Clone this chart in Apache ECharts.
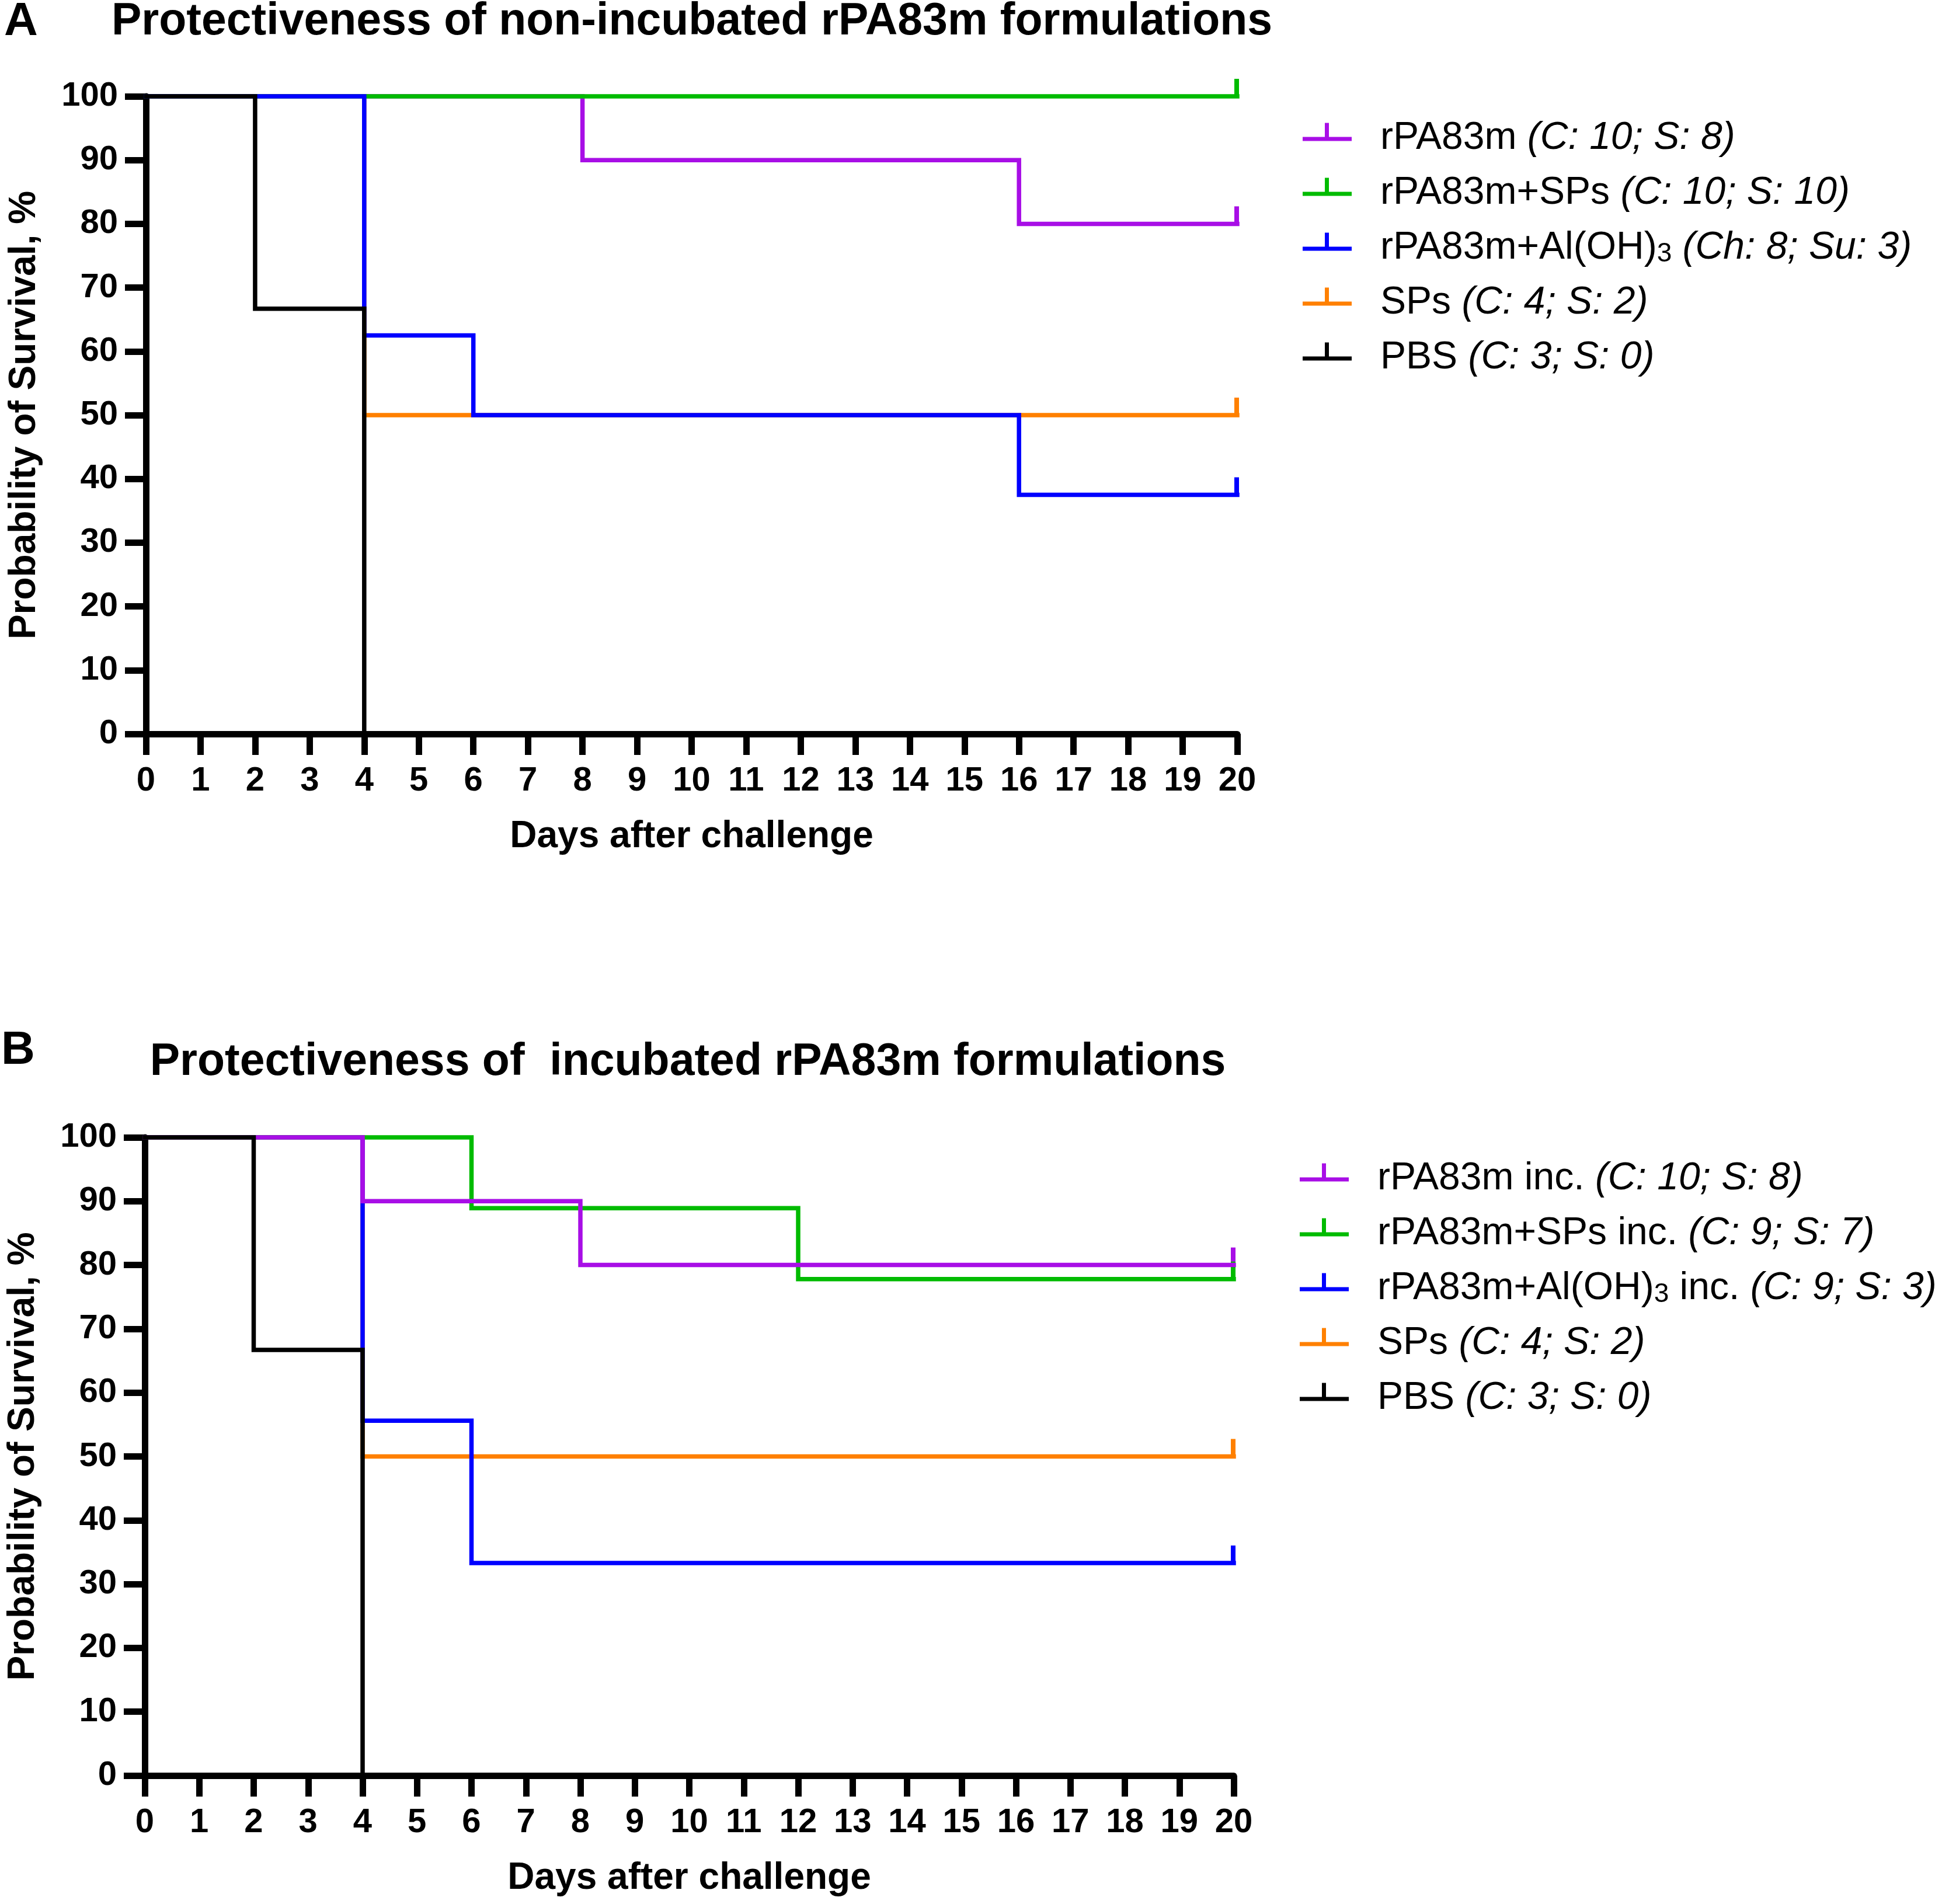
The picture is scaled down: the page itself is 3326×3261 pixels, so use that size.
<!DOCTYPE html>
<html>
<head>
<meta charset="utf-8">
<script src="https://cdn.jsdelivr.net/npm/echarts@6/dist/echarts.min.js"></script>
<style>
  html, body { margin: 0; padding: 0; background: #fff; }
  #main { width: 3326px; height: 3261px; }
</style>
</head>
<body>
<div id="main"></div>
<script>
// ---- data (days after challenge / survival %) ----
// panel A: non-incubated formulations
var daysA_rpa = [0, 8, 16, 20];      var survA_rpa = [100, 90, 80, 80];
var daysA_rpaSps = [0, 20];          var survA_rpaSps = [100, 100];
var daysA_rpaAl = [0, 4, 6, 16, 20]; var survA_rpaAl = [100, 62.5, 50, 37.5, 37.5];
var daysA_sps = [0, 4, 20];          var survA_sps = [100, 50, 50];
var daysA_pbs = [0, 2, 4];           var survA_pbs = [100, 66.7, 0];
// panel B: incubated formulations
var daysB_rpa = [0, 4, 8, 20];       var survB_rpa = [100, 90, 80, 80];
var daysB_rpaSps = [0, 6, 12, 20];   var survB_rpaSps = [100, 88.9, 77.8, 77.8];
var daysB_rpaAl = [0, 4, 6, 20];     var survB_rpaAl = [100, 55.6, 33.3, 33.3];
var daysB_sps = [0, 4, 20];          var survB_sps = [100, 50, 50];
var daysB_pbs = [0, 2, 4];           var survB_pbs = [100, 66.7, 0];

var namesA = ['rPA83m', 'rPA83m+SPs', 'rPA83m+Al(OH)3', 'SPs', 'PBS'];
var countsA = ['(C: 10; S: 8)', '(C: 10; S: 10)', '(Ch: 8; Su: 3)', '(C: 4; S: 2)', '(C: 3; S: 0)'];
var namesB = ['rPA83m inc.', 'rPA83m+SPs inc.', 'rPA83m+Al(OH)3 inc.', 'SPs', 'PBS'];
var countsB = ['(C: 10; S: 8)', '(C: 9; S: 7)', '(C: 9; S: 3)', '(C: 4; S: 2)', '(C: 3; S: 0)'];
var colors = ['#a80ee6', '#00bb00', '#0000ff', '#ff8000', '#000000'];

var titleA = 'Protectiveness of non-incubated rPA83m formulations';
var titleB = 'Protectiveness of  incubated rPA83m formulations';
var xName = 'Days after challenge';
var yName = 'Probability of Survival, %';

var FONT = '"Liberation Sans", Arial, sans-serif';

function pairs(days, surv) {
    var out = [];
    for (var i = 0; i < days.length; i++) out.push([days[i], surv[i]]);
    return out;
}

function kmSeries(name, days, surv, color, idx, z) {
    var last = surv[surv.length - 1];
    var s = {
        name: name,
        type: 'line',
        step: 'end',
        xAxisIndex: idx,
        yAxisIndex: idx,
        symbol: 'none',
        clip: false,
        z: z,
        color: color,
        itemStyle: { color: color },
        lineStyle: { color: color, width: 7.5, cap: 'square', join: 'miter' },
        data: pairs(days, surv)
    };
    // censored tick at the end of follow-up
    if (last > 0) {
        s.markPoint = {
            silent: true,
            symbol: 'rect',
            symbolSize: [8, 30],
            symbolOffset: [-1, -15],
            itemStyle: { color: color },
            label: { show: false },
            data: [{ coord: [days[days.length - 1], last] }]
        };
    }
    return s;
}

function legendLabel(name) {
    var i = namesA.indexOf(name);
    var cnt = i >= 0 ? countsA[i] : countsB[namesB.indexOf(name)];
    var parts = name.split('(OH)3');
    var txt;
    if (parts.length > 1) {
        txt = '{n|' + parts[0] + '(OH)}{s|3}{n|' + parts[1] + ' }';
    } else {
        txt = '{n|' + name + ' }';
    }
    return txt + '{i|' + cnt + '}';
}

// censor-style legend mark; the tiny dot at the bottom only shifts the visible part upward
var legendIcon = 'path://M0,24L84,24L84,31L0,31Z M38,0L45,0L45,24L38,24Z M41,52.9L41.1,52.9L41.1,53L41,53Z';

function makeLegend(names, left, top) {
    return {
        data: names,
        orient: 'vertical',
        left: left,
        top: top,
        padding: 0,
        itemGap: 28,
        itemWidth: 84,
        itemHeight: 53,
        icon: legendIcon,
        selectedMode: false,
        formatter: legendLabel,
        textStyle: {
            fontFamily: FONT,
            fontSize: 66,
            color: '#000',
            padding: [0, 0, 0, 44],
            rich: {
                n: { fontFamily: FONT, fontSize: 66, lineHeight: 66, color: '#000' },
                i: { fontFamily: FONT, fontSize: 66, lineHeight: 66, fontStyle: 'italic', color: '#000' },
                s: { fontFamily: FONT, fontSize: 46, lineHeight: 16, verticalAlign: 'bottom', color: '#000' }
            }
        }
    };
}

function xAxisCfg(idx) {
    return {
        type: 'value', gridIndex: idx, min: 0, max: 20, interval: 1,
        name: xName, nameLocation: 'middle', nameGap: 144,
        nameTextStyle: { fontFamily: FONT, fontSize: 64, fontWeight: 'bold', color: '#000' },
        axisLine: { show: true, onZero: false, lineStyle: { color: '#000', width: 11 } },
        axisTick: { show: true, length: 36, lineStyle: { color: '#000', width: 11 } },
        axisLabel: { fontFamily: FONT, fontSize: 58, fontWeight: 'bold', color: '#000', margin: 52 },
        splitLine: { show: false }
    };
}

function yAxisCfg(idx) {
    return {
        type: 'value', gridIndex: idx, min: 0, max: 100, interval: 10,
        name: yName, nameLocation: 'middle', nameGap: 176,
        nameTextStyle: { fontFamily: FONT, fontSize: 64, fontWeight: 'bold', color: '#000' },
        axisLine: { show: true, onZero: false, lineStyle: { color: '#000', width: 11 } },
        axisTick: { show: true, length: 36, lineStyle: { color: '#000', width: 11 } },
        axisLabel: { fontFamily: FONT, fontSize: 58, fontWeight: 'bold', color: '#000', margin: 48 },
        splitLine: { show: false }
    };
}

function headText(txt, x, y, size) {
    return {
        type: 'text', x: x, y: y, silent: true,
        style: {
            text: txt, fill: '#000',
            font: 'bold ' + size + 'px ' + FONT,
            fontFamily: FONT, fontSize: size, fontWeight: 'bold',
            align: 'center', verticalAlign: 'middle',
            textAlign: 'center', textVerticalAlign: 'middle'
        }
    };
}

var chart = echarts.init(document.getElementById('main'), null, { renderer: 'canvas' });

var option = {
    backgroundColor: '#fff',
    animation: false,
    grid: [
        { left: 250, top: 165, width: 1869, height: 1092 },
        { left: 244, top: 1948, width: 1869, height: 1093 }
    ],
    xAxis: [xAxisCfg(0), xAxisCfg(1)],
    yAxis: [yAxisCfg(0), yAxisCfg(1)],
    legend: [makeLegend(namesA, 2231, 204), makeLegend(namesB, 2226, 1986)],
    graphic: [
        headText('A', 36, 38, 80),
        headText(titleA, 1185, 38, 77),
        headText('B', 31, 1800, 80),
        headText(titleB, 1178, 1820, 77)
    ],
    series: [
        kmSeries(namesA[0], daysA_rpa, survA_rpa, colors[0], 0, 2),
        kmSeries(namesA[1], daysA_rpaSps, survA_rpaSps, colors[1], 0, 4),
        kmSeries(namesA[2], daysA_rpaAl, survA_rpaAl, colors[2], 0, 5),
        kmSeries(namesA[3], daysA_sps, survA_sps, colors[3], 0, 3),
        kmSeries(namesA[4], daysA_pbs, survA_pbs, colors[4], 0, 6),

        kmSeries(namesB[0], daysB_rpa, survB_rpa, colors[0], 1, 5),
        kmSeries(namesB[1], daysB_rpaSps, survB_rpaSps, colors[1], 1, 4),
        kmSeries(namesB[2], daysB_rpaAl, survB_rpaAl, colors[2], 1, 3),
        kmSeries(namesB[3], daysB_sps, survB_sps, colors[3], 1, 2),
        kmSeries(namesB[4], daysB_pbs, survB_pbs, colors[4], 1, 6)
    ]
};

chart.setOption(option);
</script>
</body>
</html>
